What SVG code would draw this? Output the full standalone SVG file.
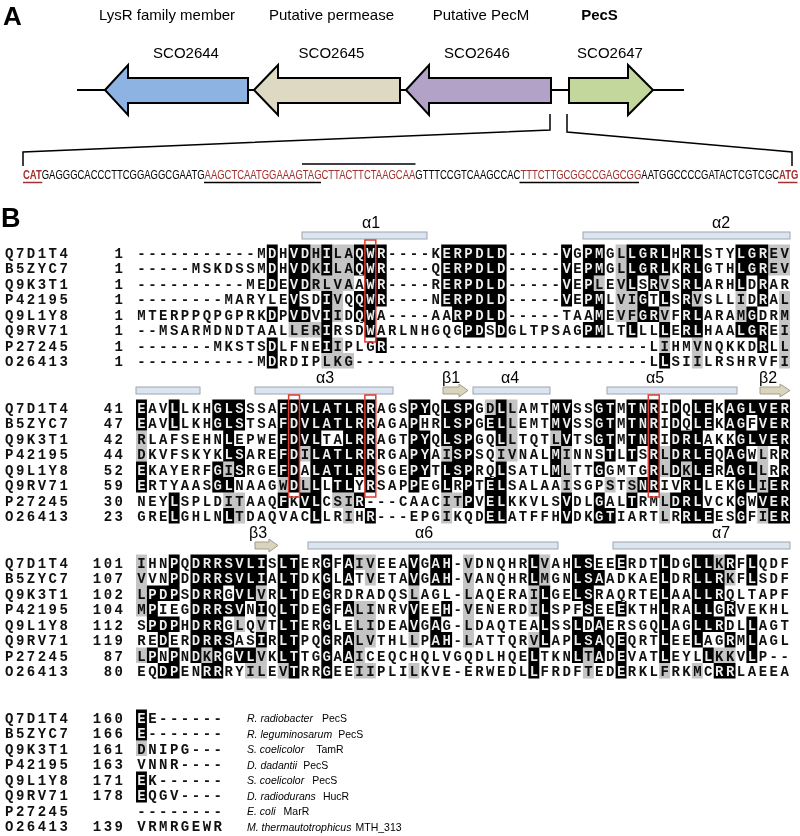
<svg xmlns="http://www.w3.org/2000/svg" width="800" height="836" viewBox="0 0 800 836">
<style>
.sans{font-family:"Liberation Sans",Arial,sans-serif;fill:#000}
.gl{font-size:15px;text-anchor:middle}
.seq{font-family:"Liberation Mono","DejaVu Sans Mono",monospace;font-size:14px;font-weight:bold;letter-spacing:2.5px;fill:#111}
.k{fill:#fff;mix-blend-mode:difference}
.g{fill:#c4c4c4;mix-blend-mode:multiply}
.hx{fill:#dbe5f1;stroke:#9ea6ae;stroke-width:1}
.bs{fill:#d9d4be;stroke:#a39e88;stroke-width:1}
.ss{font-family:"Liberation Sans",Arial,sans-serif;font-size:16px;text-anchor:middle}
.rb{fill:none;stroke:#e0392d;stroke-width:1.5}
.gene{stroke:#000;stroke-width:2;stroke-linejoin:miter}
.dna{font-family:"Liberation Sans",Arial,sans-serif;font-size:12.5px;fill:#000}
.red{fill:#a3302e}
.sp{font-family:"Liberation Sans",Arial,sans-serif;font-size:10.5px}
</style>
<rect width="800" height="836" fill="#fff"/>

<!-- Panel A -->
<text class="sans" x="3" y="25" font-size="26" font-weight="bold">A</text>
<text class="sans gl" x="167" y="20">LysR family member</text>
<text class="sans gl" x="331.5" y="20">Putative permease</text>
<text class="sans gl" x="481" y="20">Putative PecM</text>
<text class="sans gl" x="599.5" y="20" font-weight="bold">PecS</text>

<g id="connectors" fill="none" stroke="#000">
<line x1="77" y1="90" x2="684" y2="90" stroke-width="2"/>
<polyline points="550,114 550,130 23,152 23,166" stroke-width="1.5"/>
<polyline points="567,114 567,132 792,152 792,166" stroke-width="1.5"/>
<line x1="204" y1="182.5" x2="321" y2="182.5" stroke-width="1.5"/>
<line x1="302" y1="164" x2="415.5" y2="164" stroke-width="1.5"/>
<line x1="519.5" y1="182.5" x2="639" y2="182.5" stroke-width="1.5"/>
<line x1="23" y1="182.5" x2="42.3" y2="182.5" stroke="#a3302e" stroke-width="1.5"/>
<line x1="778" y1="182.5" x2="797.5" y2="182.5" stroke="#a3302e" stroke-width="1.5"/>
</g>

<g id="SCO2644">
<polygon class="gene" fill="#8db3e2" points="105,90 128,65 128,78 248,78 248,103 128,103 128,115"/>
<text class="sans gl" x="186" y="58">SCO2644</text>
</g>
<g id="SCO2645">
<polygon class="gene" fill="#ddd9c3" points="254,90 278,65 278,78 400,78 400,103 278,103 278,115"/>
<text class="sans gl" x="331.5" y="58">SCO2645</text>
</g>
<g id="SCO2646">
<polygon class="gene" fill="#b3a2c7" points="406,90 429,65 429,78 551,78 551,103 429,103 429,115"/>
<text class="sans gl" x="477" y="58">SCO2646</text>
</g>
<g id="SCO2647">
<polygon class="gene" fill="#c3d69b" points="569,78 628,78 628,65 653,90 628,115 628,103 569,103"/>
<text class="sans gl" x="610" y="58">SCO2647</text>
</g>

<g id="dna" transform="translate(23,179) scale(0.758,1)">
<text class="dna" x="0" y="0"><tspan class="red" font-weight="bold">CAT</tspan><tspan>GAGGGCACCCTTCGGAGGCGAATG</tspan><tspan class="red">AAGCTCAATGGAAAGTAGCTTACTTCTAAGCAA</tspan><tspan>GTTTCCGTCAAGCCAC</tspan><tspan class="red">TTTCTTGCGGCCGAGCGG</tspan><tspan>AATGGCCCCGATACTCGTCGC</tspan><tspan class="red" font-weight="bold">ATG</tspan></text>
</g>

<!-- Panel B -->
<text class="sans" x="1" y="227" font-size="27" font-weight="bold">B</text>

<g id="ss">
<rect class="hx" x="302" y="232" width="125" height="7"/>
<rect class="hx" x="583" y="232" width="207" height="7"/>
<text class="ss" x="371" y="228">α1</text>
<text class="ss" x="721" y="228">α2</text>
<rect class="hx" x="136" y="387" width="64" height="7"/>
<rect class="hx" x="255" y="387" width="138" height="7"/>
<rect class="hx" x="473" y="387" width="77" height="7"/>
<rect class="hx" x="607" y="387" width="130" height="7"/>
<path class="bs" d="M443,387H459V384L468,390.5L459,397V394H443Z"/>
<path class="bs" d="M760,387H780V384L790,390.5L780,397V394H760Z"/>
<text class="ss" x="325" y="383">α3</text>
<text class="ss" x="451" y="383">β1</text>
<text class="ss" x="510" y="383">α4</text>
<text class="ss" x="655" y="383">α5</text>
<text class="ss" x="768" y="383">β2</text>
<path class="bs" d="M255,542H269V539L278,545.5L269,552V549H255Z"/>
<rect class="hx" x="308" y="542" width="250" height="7"/>
<rect class="hx" x="613" y="542" width="177" height="7"/>
<text class="ss" x="258" y="538">β3</text>
<text class="ss" x="424" y="538">α6</text>
<text class="ss" x="721" y="538">α7</text>
</g>

<g id="names" class="seq">
<text x="5" y="257.8">Q7D1T4</text><text x="5" y="273.3">B5ZYC7</text><text x="5" y="288.8">Q9K3T1</text><text x="5" y="304.3">P42195</text><text x="5" y="319.8">Q9L1Y8</text><text x="5" y="335.3">Q9RV71</text><text x="5" y="350.8">P27245</text><text x="5" y="366.3">O26413</text>
<text x="114.6" y="257.8">1</text><text x="114.6" y="273.3">1</text><text x="114.6" y="288.8">1</text><text x="114.6" y="304.3">1</text><text x="114.6" y="319.8">1</text><text x="114.6" y="335.3">1</text><text x="114.6" y="350.8">1</text><text x="114.6" y="366.3">1</text>
<text x="5" y="412.8">Q7D1T4</text><text x="5" y="428.3">B5ZYC7</text><text x="5" y="443.8">Q9K3T1</text><text x="5" y="459.3">P42195</text><text x="5" y="474.8">Q9L1Y8</text><text x="5" y="490.3">Q9RV71</text><text x="5" y="505.8">P27245</text><text x="5" y="521.3">O26413</text>
<text x="103.7" y="412.8">41</text><text x="103.7" y="428.3">47</text><text x="103.7" y="443.8">42</text><text x="103.7" y="459.3">44</text><text x="103.7" y="474.8">52</text><text x="103.7" y="490.3">59</text><text x="103.7" y="505.8">30</text><text x="103.7" y="521.3">23</text>
<text x="5" y="567.8">Q7D1T4</text><text x="5" y="583.3">B5ZYC7</text><text x="5" y="598.8">Q9K3T1</text><text x="5" y="614.3">P42195</text><text x="5" y="629.8">Q9L1Y8</text><text x="5" y="645.3">Q9RV71</text><text x="5" y="660.8">P27245</text><text x="5" y="676.3">O26413</text>
<text x="92.8" y="567.8">101</text><text x="92.8" y="583.3">107</text><text x="92.8" y="598.8">102</text><text x="92.8" y="614.3">104</text><text x="92.8" y="629.8">112</text><text x="92.8" y="645.3">119</text><text x="103.7" y="660.8">87</text><text x="103.7" y="676.3">80</text>
<text x="5" y="722.8">Q7D1T4</text><text x="5" y="738.3">B5ZYC7</text><text x="5" y="753.8">Q9K3T1</text><text x="5" y="769.3">P42195</text><text x="5" y="784.8">Q9L1Y8</text><text x="5" y="800.3">Q9RV71</text><text x="5" y="815.8">P27245</text><text x="5" y="831.3">O26413</text>
<text x="92.8" y="722.8">160</text><text x="92.8" y="738.3">166</text><text x="92.8" y="753.8">161</text><text x="92.8" y="769.3">163</text><text x="92.8" y="784.8">171</text><text x="92.8" y="800.3">178</text><text x="92.8" y="831.3">139</text>
</g>

<g id="alignment" class="seq">
<text x="137.25" y="257.8">-----------MDHVDHILAQWR----KERPDLD-----VGPMGLLGRLHRLSTYLGREV</text>
<text x="137.25" y="273.3">-----MSKDSSMDHVDKILAQWR----QERPDLD-----VEPMGLLGRLKRLGTHLGREV</text>
<text x="137.25" y="288.8">----------MEDEVDRLVAAWR----RERPDLD-----VEPLEVLSRVSRLARHLDRAR</text>
<text x="137.25" y="304.3">--------MARYLEVSDIVQQWR----NERPDLD-----VEPMLVIGTLSRVSLLIDRAL</text>
<text x="137.25" y="319.8">MTERPPQPGPRKDPVDVIIDQWA----AARPDLD-----TAAMEVFGRVFRLARAMGDRM</text>
<text x="137.25" y="335.3">--MSARMDNDTAALLERIRSDWARLNHGQGPDSDGLTPSAGPMLTLLLLERLHAALGREI</text>
<text x="137.25" y="350.8">-------MKSTSDLFNEIIPLGR------------------------LIHMVNQKKDRLL</text>
<text x="137.25" y="366.3">-----------MDRDIPLKG---------------------------LLSIILRSHRVFI</text>

<text x="137.25" y="412.8">EAVLLKHGLSSSAFDVLATLRRAGSPYQLSPGDLLAMTMVSSGTMTNRIDQLEKAGLVER</text>
<text x="137.25" y="428.3">EAVLLKHGLSTSAFDVLATLRRAGAPHRLSPGELLEMTMVSSGTMTNRIDQLEKAGFVER</text>
<text x="137.25" y="443.8">RLAFSEHNLEPWEFDVLTALRRAGTPYQLSPGQLLTQTLVTSGTMTNRIDRLAKKGLVER</text>
<text x="137.25" y="459.3">DKVFSKYKLSAREFDILATLRRRGAPYAISPSQIVNALMINNSTLTSRLDRLEQAGWLRR</text>
<text x="137.25" y="474.8">EKAYERFGISRGEFDALATLRRSGEPYTLSPRQLSATLMLTTGGMTGRLDKLERAGLLRR</text>
<text x="137.25" y="490.3">ERTYAASGLNAAGWDLLLTLYRSAPPEGLRPTELSALAAISGPSTSNRIVRLLEKGLIER</text>
<text x="137.25" y="505.8">NEYLSPLDITAAQFKVLCSIR---CAACITPVELKKVLSVDLGALTRMLDRLVCKGWVER</text>
<text x="137.25" y="521.3">GRELGHLNLTDAQVACLLRIHR---EPGIKQDELATFFHVDKGTIARTLRRLEESGFIER</text>

<text x="137.25" y="567.8">IHNPQDRRSVLISLTERGFAIVEEAVGAH-VDNQHRLVAHLSEEERDTLDGLLKRFLQDF</text>
<text x="137.25" y="583.3">VVNPDDRRSVLIALTDKGLATVETAVGAH-VANQHRLMGNLSAADKAELDRLLRKFLSDF</text>
<text x="137.25" y="598.8">LPDPSDRRGVLVRLTDEGRDRADQSLAGL-LAQERAILGELSRAQRTELAALLRQLTAPF</text>
<text x="137.25" y="614.3">MPIEGDRRSVNIQLTDEGFALINRVVEEH-VENERDILSPFSEEEKTHLRALLGRVEKHL</text>
<text x="137.25" y="629.8">SPDPHDRRGLQVTLTERGLELIDEAVGAG-LDAQTEALSSLDAERSGQLAGLLRDLLAGT</text>
<text x="137.25" y="645.3">REDERDRRSASIRLTPQGRALVTHLLPAH-LATTQRVLAPLSAQEQRTLEELAGRMLAGL</text>
<text x="137.25" y="660.8">LPNPNDKRGVLVKLTTGGAAICEQCHQLVGQDLHQELTKNLTADEVATLEYLLKKVLP--</text>
<text x="137.25" y="676.3">EQDPENRRRYILEVTRRGEEIIPLILKVE-ERWEDLLFRDFTEDERKLFRKMCRRLAEEA</text>

<text x="137.25" y="722.8">EE------</text>
<text x="137.25" y="738.3">E-------</text>
<text x="137.25" y="753.8">DNIPG---</text>
<text x="137.25" y="769.3">VNNR----</text>
<text x="137.25" y="784.8">EK------</text>
<text x="137.25" y="800.3">EQGV----</text>
<text x="137.25" y="815.8">--------</text>
<text x="137.25" y="831.3">VRMRGEWR</text>
</g>

<g id="shade-black" class="k">
<path d="M266.8,244.5h10.9v15.5h-10.9zM288.6,244.5h21.8v15.5h-21.8zM321.3,244.5h10.9v15.5h-10.9zM354,244.5h32.7v15.5h-32.7zM441.2,244.5h65.4v15.5h-65.4zM561.1,244.5h10.9v15.5h-10.9zM582.9,244.5h21.8v15.5h-21.8zM626.5,244.5h43.6v15.5h-43.6zM681,244.5h21.8v15.5h-21.8zM735.5,244.5h32.7v15.5h-32.7z
M266.8,260h10.9v15.5h-10.9zM288.6,260h21.8v15.5h-21.8zM321.3,260h10.9v15.5h-10.9zM354,260h32.7v15.5h-32.7zM441.2,260h65.4v15.5h-65.4zM561.1,260h10.9v15.5h-10.9zM582.9,260h21.8v15.5h-21.8zM626.5,260h43.6v15.5h-43.6zM681,260h21.8v15.5h-21.8zM735.5,260h32.7v15.5h-32.7z
M266.8,275.5h10.9v15.5h-10.9zM288.6,275.5h21.8v15.5h-21.8zM364.9,275.5h21.8v15.5h-21.8zM441.2,275.5h65.4v15.5h-65.4zM561.1,275.5h10.9v15.5h-10.9zM582.9,275.5h10.9v15.5h-10.9zM626.5,275.5h10.9v15.5h-10.9zM648.3,275.5h10.9v15.5h-10.9zM681,275.5h21.8v15.5h-21.8zM735.5,275.5h10.9v15.5h-10.9zM757.3,275.5h10.9v15.5h-10.9z
M288.6,291h10.9v15.5h-10.9zM321.3,291h10.9v15.5h-10.9zM354,291h32.7v15.5h-32.7zM441.2,291h65.4v15.5h-65.4zM561.1,291h10.9v15.5h-10.9zM582.9,291h21.8v15.5h-21.8zM637.4,291h10.9v15.5h-10.9zM659.2,291h10.9v15.5h-10.9zM681,291h10.9v15.5h-10.9zM757.3,291h10.9v15.5h-10.9z
M266.8,306.5h10.9v15.5h-10.9zM288.6,306.5h21.8v15.5h-21.8zM321.3,306.5h10.9v15.5h-10.9zM354,306.5h21.8v15.5h-21.8zM452.1,306.5h54.5v15.5h-54.5zM593.8,306.5h10.9v15.5h-10.9zM637.4,306.5h21.8v15.5h-21.8zM681,306.5h21.8v15.5h-21.8zM746.4,306.5h10.9v15.5h-10.9z
M321.3,322h10.9v15.5h-10.9zM364.9,322h10.9v15.5h-10.9zM463,322h21.8v15.5h-21.8zM495.7,322h10.9v15.5h-10.9zM582.9,322h21.8v15.5h-21.8zM626.5,322h10.9v15.5h-10.9zM659.2,322h10.9v15.5h-10.9zM681,322h21.8v15.5h-21.8zM735.5,322h32.7v15.5h-32.7z
M266.8,337.5h10.9v15.5h-10.9zM321.3,337.5h10.9v15.5h-10.9zM375.8,337.5h10.9v15.5h-10.9zM757.3,337.5h10.9v15.5h-10.9z
M266.8,353h10.9v15.5h-10.9zM659.2,353h10.9v15.5h-10.9z"/>
<path d="M136,399.5h10.9v15.5h-10.9zM168.7,399.5h10.9v15.5h-10.9zM212.3,399.5h32.7v15.5h-32.7zM277.7,399.5h98.1v15.5h-98.1zM408.5,399.5h21.8v15.5h-21.8zM441.2,399.5h32.7v15.5h-32.7zM495.7,399.5h10.9v15.5h-10.9zM550.2,399.5h21.8v15.5h-21.8zM593.8,399.5h21.8v15.5h-21.8zM626.5,399.5h32.7v15.5h-32.7zM670.1,399.5h10.9v15.5h-10.9zM691.9,399.5h21.8v15.5h-21.8zM724.6,399.5h65.4v15.5h-65.4z
M136,415h10.9v15.5h-10.9zM168.7,415h10.9v15.5h-10.9zM212.3,415h32.7v15.5h-32.7zM277.7,415h98.1v15.5h-98.1zM408.5,415h10.9v15.5h-10.9zM441.2,415h32.7v15.5h-32.7zM484.8,415h21.8v15.5h-21.8zM550.2,415h21.8v15.5h-21.8zM593.8,415h21.8v15.5h-21.8zM626.5,415h32.7v15.5h-32.7zM670.1,415h10.9v15.5h-10.9zM691.9,415h21.8v15.5h-21.8zM724.6,415h21.8v15.5h-21.8zM757.3,415h32.7v15.5h-32.7z
M223.2,430.5h10.9v15.5h-10.9zM277.7,430.5h43.6v15.5h-43.6zM343.1,430.5h32.7v15.5h-32.7zM408.5,430.5h21.8v15.5h-21.8zM441.2,430.5h32.7v15.5h-32.7zM495.7,430.5h10.9v15.5h-10.9zM561.1,430.5h10.9v15.5h-10.9zM593.8,430.5h21.8v15.5h-21.8zM626.5,430.5h32.7v15.5h-32.7zM670.1,430.5h32.7v15.5h-32.7zM735.5,430.5h54.5v15.5h-54.5z
M223.2,446h21.8v15.5h-21.8zM277.7,446h21.8v15.5h-21.8zM310.4,446h65.4v15.5h-65.4zM408.5,446h21.8v15.5h-21.8zM452.1,446h21.8v15.5h-21.8zM550.2,446h10.9v15.5h-10.9zM604.7,446h10.9v15.5h-10.9zM626.5,446h10.9v15.5h-10.9zM648.3,446h10.9v15.5h-10.9zM670.1,446h43.6v15.5h-43.6zM724.6,446h21.8v15.5h-21.8zM779.1,446h10.9v15.5h-10.9z
M136,461.5h10.9v15.5h-10.9zM212.3,461.5h10.9v15.5h-10.9zM234.1,461.5h10.9v15.5h-10.9zM277.7,461.5h21.8v15.5h-21.8zM310.4,461.5h65.4v15.5h-65.4zM408.5,461.5h21.8v15.5h-21.8zM441.2,461.5h32.7v15.5h-32.7zM495.7,461.5h10.9v15.5h-10.9zM550.2,461.5h10.9v15.5h-10.9zM593.8,461.5h10.9v15.5h-10.9zM648.3,461.5h10.9v15.5h-10.9zM670.1,461.5h10.9v15.5h-10.9zM691.9,461.5h21.8v15.5h-21.8zM724.6,461.5h32.7v15.5h-32.7zM779.1,461.5h10.9v15.5h-10.9z
M136,477h10.9v15.5h-10.9zM212.3,477h21.8v15.5h-21.8zM288.6,477h10.9v15.5h-10.9zM310.4,477h10.9v15.5h-10.9zM332.2,477h21.8v15.5h-21.8zM364.9,477h10.9v15.5h-10.9zM408.5,477h10.9v15.5h-10.9zM441.2,477h10.9v15.5h-10.9zM463,477h10.9v15.5h-10.9zM484.8,477h21.8v15.5h-21.8zM637.4,477h21.8v15.5h-21.8zM681,477h21.8v15.5h-21.8zM735.5,477h21.8v15.5h-21.8zM768.2,477h21.8v15.5h-21.8z
M168.7,492.5h10.9v15.5h-10.9zM277.7,492.5h10.9v15.5h-10.9zM299.5,492.5h21.8v15.5h-21.8zM354,492.5h10.9v15.5h-10.9zM463,492.5h10.9v15.5h-10.9zM484.8,492.5h21.8v15.5h-21.8zM561.1,492.5h10.9v15.5h-10.9zM593.8,492.5h10.9v15.5h-10.9zM626.5,492.5h10.9v15.5h-10.9zM670.1,492.5h32.7v15.5h-32.7zM735.5,492.5h10.9v15.5h-10.9zM757.3,492.5h32.7v15.5h-32.7z
M168.7,508h10.9v15.5h-10.9zM223.2,508h10.9v15.5h-10.9zM310.4,508h10.9v15.5h-10.9zM364.9,508h10.9v15.5h-10.9zM484.8,508h21.8v15.5h-21.8zM561.1,508h10.9v15.5h-10.9zM593.8,508h21.8v15.5h-21.8zM681,508h32.7v15.5h-32.7zM735.5,508h10.9v15.5h-10.9zM768.2,508h21.8v15.5h-21.8z"/>
<path d="M168.7,554.5h10.9v15.5h-10.9zM190.5,554.5h76.3v15.5h-76.3zM277.7,554.5h21.8v15.5h-21.8zM321.3,554.5h10.9v15.5h-10.9zM343.1,554.5h10.9v15.5h-10.9zM408.5,554.5h10.9v15.5h-10.9zM430.3,554.5h21.8v15.5h-21.8zM528.4,554.5h10.9v15.5h-10.9zM572,554.5h21.8v15.5h-21.8zM615.6,554.5h10.9v15.5h-10.9zM659.2,554.5h10.9v15.5h-10.9zM691.9,554.5h21.8v15.5h-21.8zM724.6,554.5h10.9v15.5h-10.9zM746.4,554.5h10.9v15.5h-10.9z
M168.7,570h10.9v15.5h-10.9zM190.5,570h76.3v15.5h-76.3zM277.7,570h21.8v15.5h-21.8zM321.3,570h10.9v15.5h-10.9zM343.1,570h10.9v15.5h-10.9zM408.5,570h10.9v15.5h-10.9zM430.3,570h21.8v15.5h-21.8zM528.4,570h10.9v15.5h-10.9zM572,570h32.7v15.5h-32.7zM659.2,570h10.9v15.5h-10.9zM691.9,570h32.7v15.5h-32.7zM746.4,570h10.9v15.5h-10.9z
M146.9,585.5h32.7v15.5h-32.7zM190.5,585.5h32.7v15.5h-32.7zM234.1,585.5h21.8v15.5h-21.8zM277.7,585.5h21.8v15.5h-21.8zM321.3,585.5h10.9v15.5h-10.9zM539.3,585.5h10.9v15.5h-10.9zM572,585.5h21.8v15.5h-21.8zM659.2,585.5h10.9v15.5h-10.9zM691.9,585.5h32.7v15.5h-32.7z
M146.9,601h10.9v15.5h-10.9zM190.5,601h54.5v15.5h-54.5zM255.9,601h10.9v15.5h-10.9zM277.7,601h21.8v15.5h-21.8zM321.3,601h10.9v15.5h-10.9zM343.1,601h10.9v15.5h-10.9zM408.5,601h10.9v15.5h-10.9zM441.2,601h10.9v15.5h-10.9zM539.3,601h10.9v15.5h-10.9zM582.9,601h10.9v15.5h-10.9zM615.6,601h10.9v15.5h-10.9zM659.2,601h10.9v15.5h-10.9zM691.9,601h21.8v15.5h-21.8zM724.6,601h10.9v15.5h-10.9z
M146.9,616.5h32.7v15.5h-32.7zM190.5,616.5h32.7v15.5h-32.7zM277.7,616.5h21.8v15.5h-21.8zM321.3,616.5h10.9v15.5h-10.9zM408.5,616.5h10.9v15.5h-10.9zM430.3,616.5h10.9v15.5h-10.9zM539.3,616.5h10.9v15.5h-10.9zM572,616.5h10.9v15.5h-10.9zM593.8,616.5h10.9v15.5h-10.9zM659.2,616.5h10.9v15.5h-10.9zM691.9,616.5h32.7v15.5h-32.7zM746.4,616.5h10.9v15.5h-10.9z
M157.8,632h10.9v15.5h-10.9zM190.5,632h43.6v15.5h-43.6zM255.9,632h10.9v15.5h-10.9zM277.7,632h21.8v15.5h-21.8zM321.3,632h10.9v15.5h-10.9zM343.1,632h10.9v15.5h-10.9zM430.3,632h21.8v15.5h-21.8zM539.3,632h10.9v15.5h-10.9zM572,632h32.7v15.5h-32.7zM615.6,632h10.9v15.5h-10.9zM659.2,632h10.9v15.5h-10.9zM691.9,632h10.9v15.5h-10.9zM724.6,632h10.9v15.5h-10.9zM746.4,632h10.9v15.5h-10.9z
M146.9,647.5h10.9v15.5h-10.9zM168.7,647.5h10.9v15.5h-10.9zM190.5,647.5h10.9v15.5h-10.9zM212.3,647.5h10.9v15.5h-10.9zM234.1,647.5h21.8v15.5h-21.8zM277.7,647.5h21.8v15.5h-21.8zM321.3,647.5h10.9v15.5h-10.9zM343.1,647.5h10.9v15.5h-10.9zM528.4,647.5h10.9v15.5h-10.9zM572,647.5h10.9v15.5h-10.9zM593.8,647.5h10.9v15.5h-10.9zM615.6,647.5h10.9v15.5h-10.9zM659.2,647.5h10.9v15.5h-10.9zM702.8,647.5h10.9v15.5h-10.9zM746.4,647.5h10.9v15.5h-10.9z
M157.8,663h21.8v15.5h-21.8zM201.4,663h21.8v15.5h-21.8zM288.6,663h10.9v15.5h-10.9zM321.3,663h10.9v15.5h-10.9zM528.4,663h10.9v15.5h-10.9zM615.6,663h10.9v15.5h-10.9zM713.7,663h21.8v15.5h-21.8z"/>
<path d="M136,709.5h10.9v15.5h-10.9zM136,725h10.9v15.5h-10.9zM136,771.5h10.9v15.5h-10.9zM136,787h10.9v15.5h-10.9z"/>
</g>

<g id="shade-grey" class="g">
<path d="M310.4,244.5h10.9v15.5h-10.9zM332.2,244.5h21.8v15.5h-21.8zM615.6,244.5h10.9v15.5h-10.9zM768.2,244.5h21.8v15.5h-21.8z
M310.4,260h10.9v15.5h-10.9zM332.2,260h21.8v15.5h-21.8zM615.6,260h10.9v15.5h-10.9zM768.2,260h21.8v15.5h-21.8z
M310.4,275.5h43.6v15.5h-43.6zM593.8,275.5h10.9v15.5h-10.9zM615.6,275.5h10.9v15.5h-10.9zM659.2,275.5h10.9v15.5h-10.9z
M332.2,291h10.9v15.5h-10.9zM615.6,291h21.8v15.5h-21.8zM691.9,291h10.9v15.5h-10.9zM735.5,291h10.9v15.5h-10.9zM779.1,291h10.9v15.5h-10.9z
M332.2,306.5h10.9v15.5h-10.9zM615.6,306.5h21.8v15.5h-21.8zM659.2,306.5h10.9v15.5h-10.9zM735.5,306.5h10.9v15.5h-10.9zM779.1,306.5h10.9v15.5h-10.9z
M288.6,322h32.7v15.5h-32.7zM779.1,322h10.9v15.5h-10.9z
M332.2,337.5h10.9v15.5h-10.9zM659.2,337.5h10.9v15.5h-10.9zM691.9,337.5h10.9v15.5h-10.9zM779.1,337.5h10.9v15.5h-10.9z
M321.3,353h32.7v15.5h-32.7zM691.9,353h10.9v15.5h-10.9zM779.1,353h10.9v15.5h-10.9z"/>
<path d="M484.8,399.5h10.9v15.5h-10.9zM506.6,399.5h10.9v15.5h-10.9z
M506.6,415h10.9v15.5h-10.9z
M136,430.5h10.9v15.5h-10.9zM506.6,430.5h10.9v15.5h-10.9zM550.2,430.5h10.9v15.5h-10.9z
M136,446h10.9v15.5h-10.9zM299.5,446h10.9v15.5h-10.9zM441.2,446h10.9v15.5h-10.9zM495.7,446h21.8v15.5h-21.8zM561.1,446h10.9v15.5h-10.9zM659.2,446h10.9v15.5h-10.9zM757.3,446h10.9v15.5h-10.9z
M223.2,461.5h10.9v15.5h-10.9zM561.1,461.5h10.9v15.5h-10.9zM659.2,461.5h10.9v15.5h-10.9zM681,461.5h10.9v15.5h-10.9zM757.3,461.5h10.9v15.5h-10.9z
M277.7,477h10.9v15.5h-10.9zM299.5,477h10.9v15.5h-10.9zM561.1,477h10.9v15.5h-10.9zM604.7,477h10.9v15.5h-10.9zM626.5,477h10.9v15.5h-10.9zM757.3,477h10.9v15.5h-10.9z
M223.2,492.5h21.8v15.5h-21.8zM332.2,492.5h21.8v15.5h-21.8zM441.2,492.5h21.8v15.5h-21.8zM659.2,492.5h10.9v15.5h-10.9z
M234.1,508h10.9v15.5h-10.9zM343.1,508h10.9v15.5h-10.9zM441.2,508h10.9v15.5h-10.9zM659.2,508h10.9v15.5h-10.9zM757.3,508h10.9v15.5h-10.9z"/>
<path d="M136,554.5h10.9v15.5h-10.9zM354,554.5h21.8v15.5h-21.8zM463,554.5h10.9v15.5h-10.9zM539.3,554.5h10.9v15.5h-10.9zM713.7,554.5h10.9v15.5h-10.9z
M136,570h10.9v15.5h-10.9zM364.9,570h10.9v15.5h-10.9zM463,570h10.9v15.5h-10.9zM539.3,570h10.9v15.5h-10.9zM724.6,570h10.9v15.5h-10.9z
M136,585.5h10.9v15.5h-10.9zM255.9,585.5h10.9v15.5h-10.9zM408.5,585.5h10.9v15.5h-10.9zM463,585.5h10.9v15.5h-10.9zM528.4,585.5h10.9v15.5h-10.9z
M136,601h10.9v15.5h-10.9zM354,601h21.8v15.5h-21.8zM463,601h10.9v15.5h-10.9zM528.4,601h10.9v15.5h-10.9z
M234.1,616.5h10.9v15.5h-10.9zM255.9,616.5h10.9v15.5h-10.9zM354,616.5h21.8v15.5h-21.8zM463,616.5h10.9v15.5h-10.9z
M354,632h21.8v15.5h-21.8zM408.5,632h10.9v15.5h-10.9zM463,632h10.9v15.5h-10.9zM528.4,632h10.9v15.5h-10.9z
M136,647.5h10.9v15.5h-10.9zM201.4,647.5h10.9v15.5h-10.9zM255.9,647.5h10.9v15.5h-10.9zM354,647.5h10.9v15.5h-10.9zM582.9,647.5h10.9v15.5h-10.9zM713.7,647.5h21.8v15.5h-21.8z
M245,663h21.8v15.5h-21.8zM277.7,663h10.9v15.5h-10.9zM354,663h21.8v15.5h-21.8zM408.5,663h10.9v15.5h-10.9zM582.9,663h10.9v15.5h-10.9zM659.2,663h10.9v15.5h-10.9zM691.9,663h10.9v15.5h-10.9z"/>
<path d="M136,740.5h10.9v15.5h-10.9z"/>
</g>

<g id="red-boxes">
<rect class="rb" x="364.9" y="240" width="10.9" height="102"/>
<rect class="rb" x="288.6" y="395" width="10.9" height="102"/>
<rect class="rb" x="364.9" y="395" width="10.9" height="102"/>
<rect class="rb" x="648.3" y="395" width="10.9" height="102"/>
</g>

<g id="species" class="sp">
<text x="247" y="722"><tspan font-style="italic">R. radiobacter</tspan><tspan dx="9">PecS</tspan></text>
<text x="247" y="737.5"><tspan font-style="italic">R. leguminosarum</tspan><tspan dx="6">PecS</tspan></text>
<text x="247" y="753"><tspan font-style="italic">S. coelicolor</tspan><tspan dx="12">TamR</tspan></text>
<text x="247" y="768.5"><tspan font-style="italic">D. dadantii</tspan><tspan dx="6">PecS</tspan></text>
<text x="247" y="784"><tspan font-style="italic">S. coelicolor</tspan><tspan dx="8">PecS</tspan></text>
<text x="247" y="799.5"><tspan font-style="italic">D. radiodurans</tspan><tspan dx="7">HucR</tspan></text>
<text x="247" y="815"><tspan font-style="italic">E. coli</tspan><tspan dx="8">MarR</tspan></text>
<text x="247" y="830.5"><tspan font-style="italic">M. thermautotrophicus</tspan><tspan dx="4">MTH_313</tspan></text>
</g>
</svg>
